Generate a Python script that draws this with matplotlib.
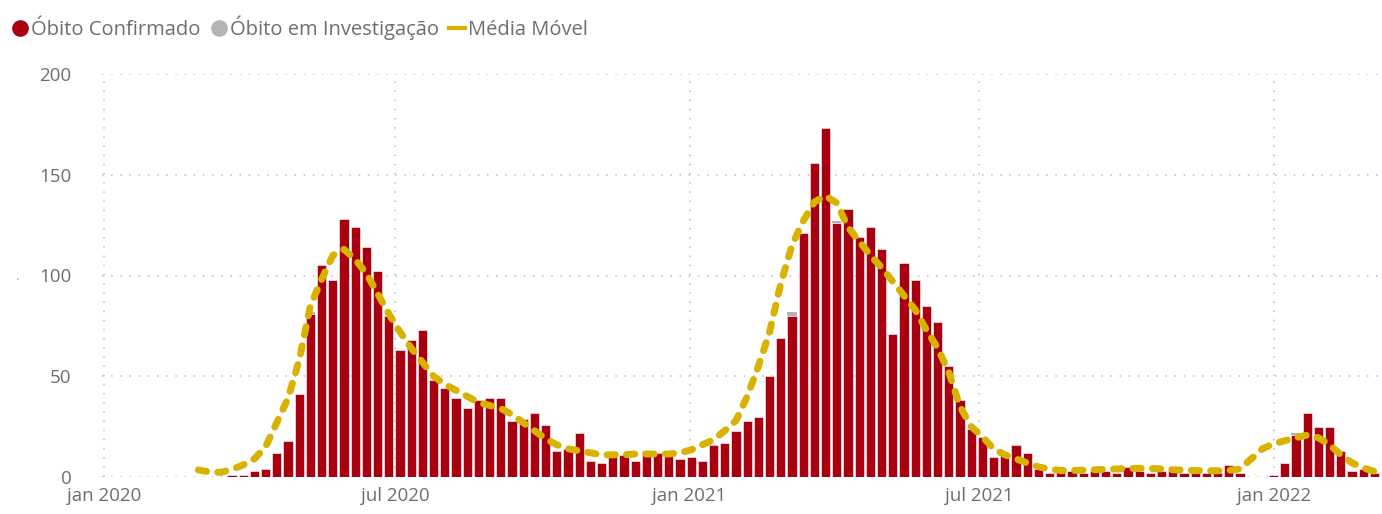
import matplotlib
matplotlib.use("Agg")
import matplotlib.pyplot as plt
import matplotlib.dates as mdates
from matplotlib.lines import Line2D
import numpy as np

# weekly data, first week 2020-02-29
start_date = np.datetime64("2020-02-29")
confirmados = [0, 0, 0, 1, 1, 3, 4, 12, 18, 41,
               81, 105, 98, 128, 124, 114, 102, 80, 63, 68,
               73, 48, 44, 39, 34, 38, 39, 39, 28, 29,
               32, 26, 13, 14, 22, 8, 7, 12, 11, 8,
               13, 12, 13, 9, 10, 8, 16, 17, 23, 28,
               30, 50, 69, 80, 121, 156, 173, 126, 133, 119,
               124, 113, 71, 106, 98, 85, 77, 55, 38, 24,
               20, 10, 11, 16, 12, 4, 2, 5, 3, 2,
               3, 3, 2, 5, 3, 2, 3, 3, 2, 2,
               2, 2, 6, 2, 0, 0, 1, 7, 21, 32,
               25, 25, 13, 3, 4, 2]
investigacao = [0] * 106
investigacao[10] = 1
investigacao[53] = 2
investigacao[57] = 1
investigacao[98] = 1
media_movel = [3.5, 2.5, 2.3, 3.8, 6, 9, 15, 27, 39, 58,
               85, 98, 110, 113, 108, 101, 91, 81, 72, 64,
               57, 50, 46, 43, 40, 37, 35.5, 34, 31, 27,
               23, 19, 16, 14, 13, 12, 11, 11, 11, 11.4,
               11.4, 11.4, 11.4, 12, 13.5, 16, 18.5, 23, 28, 40,
               55, 72, 96, 115, 127, 136.5, 139.5, 136, 124, 117,
               110, 104, 97, 90, 83, 73, 64, 52, 35, 25,
               20, 14, 11, 9, 7, 5, 4, 3.2, 3.2, 3.4,
               3.6, 3.8, 4, 4.2, 4.3, 4.2, 4, 3.6, 3.4, 3.2,
               3.1, 3.1, 3.3, 4, 9, 14, 16.5, 18, 19.5, 20.8,
               19.5, 16, 11, 7, 4.5, 2.8]
tick_dates = ["2020-01-01", "2020-07-01", "2021-01-01", "2021-07-01", "2022-01-01"]
tick_labels = ["jan 2020", "jul 2020", "jan 2021", "jul 2021", "jan 2022"]

red = "#A80010"
grey = "#B4B4B4"
gold = "#D9B200"
txt = "#6E6E6E"

plt.rcParams['font.family'] = ['Open Sans', 'DejaVu Sans']

dates = start_date + np.arange(len(confirmados)) * np.timedelta64(7, "D")
x = mdates.date2num(dates.astype("datetime64[D]").astype(object))
conf = np.array(confirmados, dtype=float)
inv = np.array(investigacao, dtype=float)

fig = plt.figure(figsize=(13.82, 5.14), dpi=100)
ax = fig.add_axes([102 / 1382, 37 / 514, 1 - 102 / 1382, 403 / 514])

ax.bar(x, conf, width=5.8, color=red, edgecolor="white", linewidth=0.4, zorder=2)
ax.bar(x, inv, width=5.8, bottom=conf, color=grey, linewidth=0, zorder=2)
ax.plot(x, media_movel, color=gold, linewidth=5, linestyle=(0, (1.2, 1.6)),
        dash_capstyle="round", zorder=3)

jan1 = mdates.date2num(np.datetime64("2020-01-01", "D").astype(object))
ax.set_xlim(jan1 - 1.25, jan1 + 798.75)
ax.set_ylim(0, 200)

tx = [mdates.date2num(np.datetime64(d, "D").astype(object)) for d in tick_dates]
ax.set_xticks(tx)
ax.set_xticklabels(tick_labels)
ax.set_yticks([0, 50, 100, 150, 200])
ax.tick_params(axis="both", length=0, labelsize=13.5, labelcolor=txt)
ax.tick_params(axis="y", pad=22)
ax.tick_params(axis="x", pad=7)

ax.grid(True, color="#BDBDBD", linestyle=(0, (1, 5)), linewidth=1.1, zorder=0)
ax.set_axisbelow(True)
for s in ax.spines.values():
    s.set_visible(False)

fig.text(18 / 1382, 1 - 281 / 514, "·", color="#AAAAAA", fontsize=10, ha="center", va="center")

handles = [
    Line2D([], [], marker="o", linestyle="None", color=red, markersize=11),
    Line2D([], [], marker="o", linestyle="None", color=grey, markersize=11),
    Line2D([], [], color=gold, linewidth=3),
]
fig.legend(handles, ["Óbito Confirmado", "Óbito em Investigação", "Média Móvel"],
           loc="upper left", bbox_to_anchor=(0.003, 0.985), ncol=3, frameon=False,
           fontsize=14.5, labelcolor=txt, handlelength=0.8, handletextpad=0.15,
           columnspacing=0.5, borderpad=0.3, borderaxespad=0.1)

fig.savefig("out.png", dpi=100)
